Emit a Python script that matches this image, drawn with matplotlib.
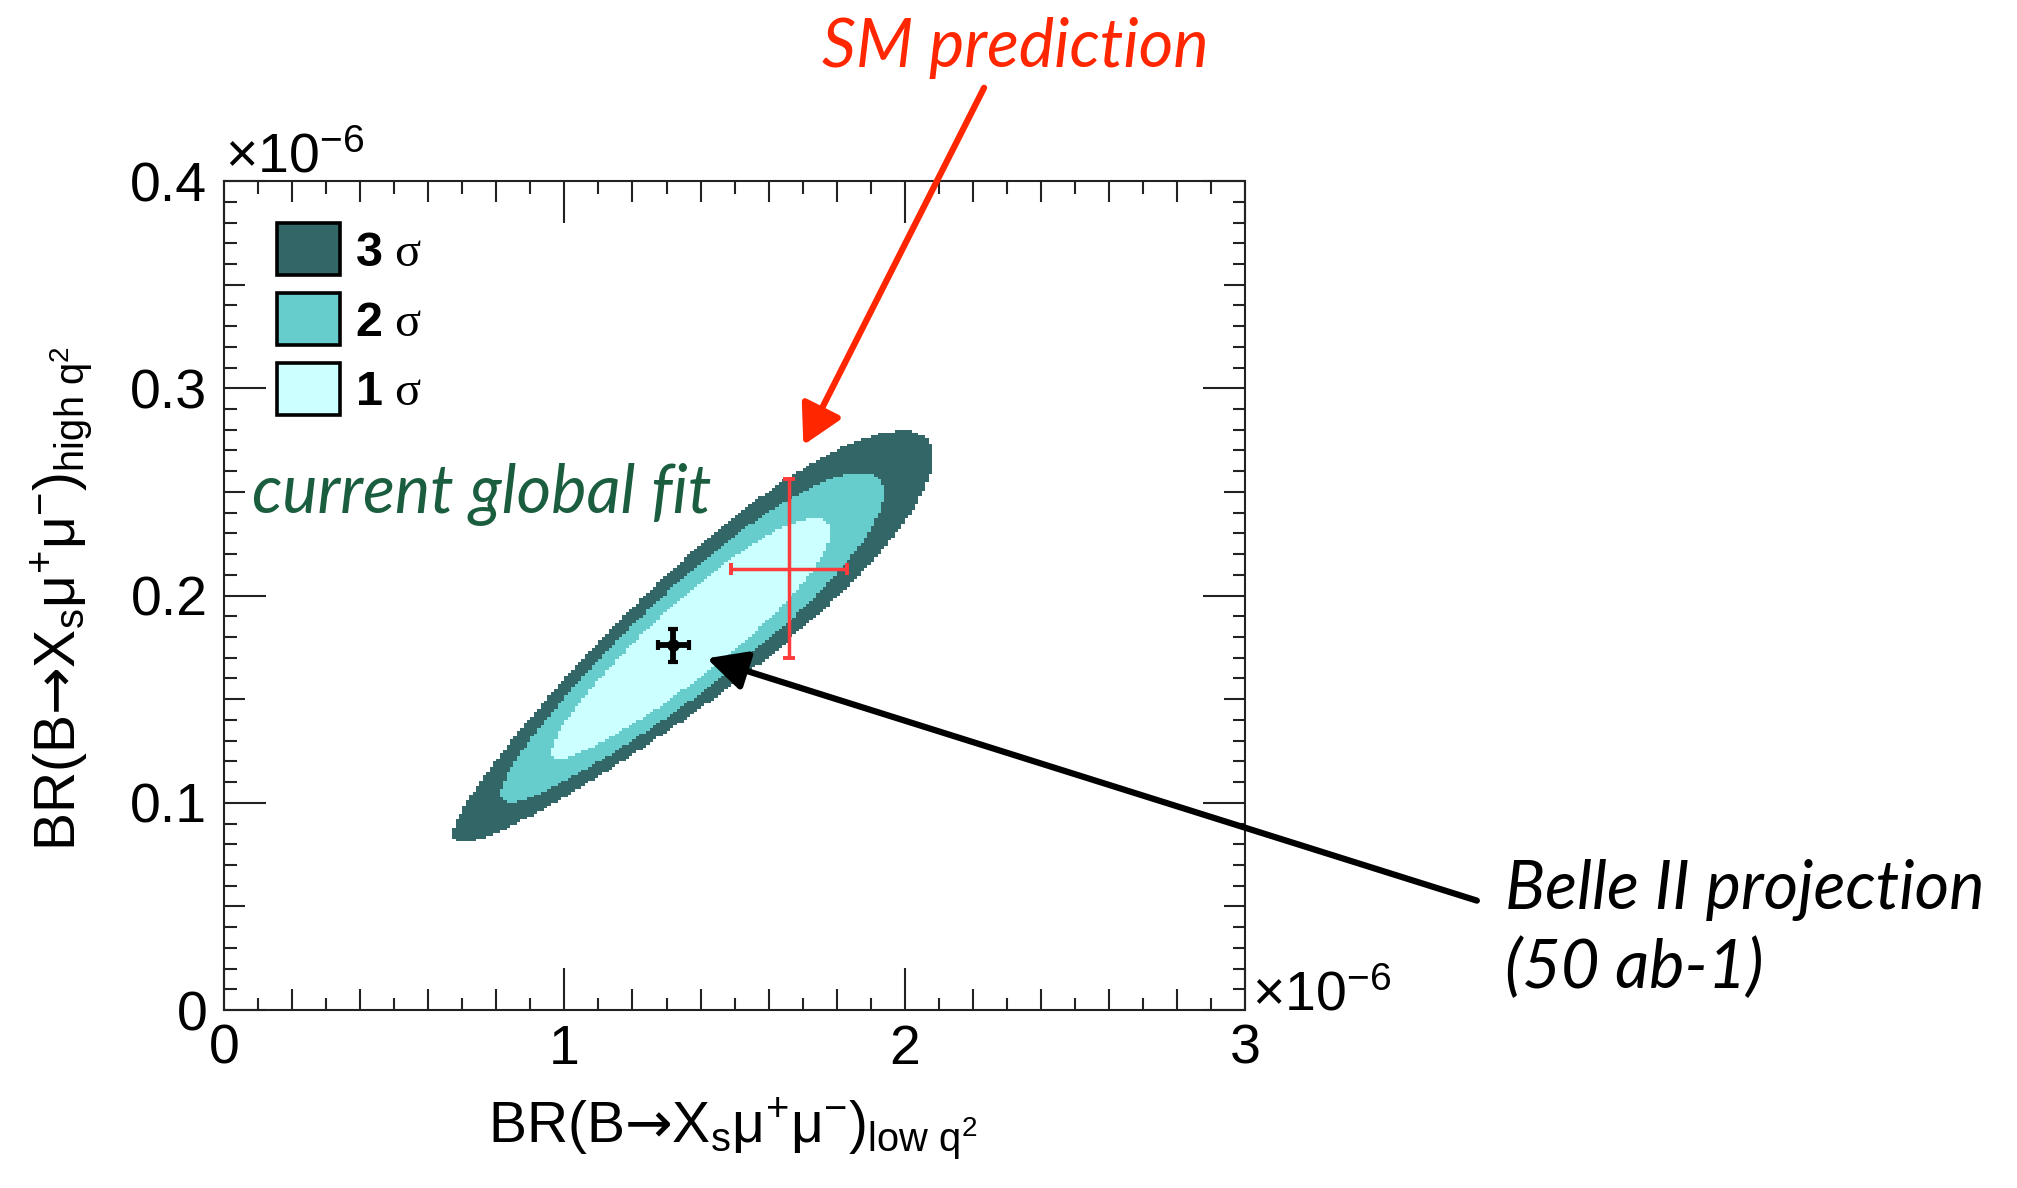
import numpy as np
import matplotlib
matplotlib.use("Agg")
import matplotlib.pyplot as plt
from matplotlib.colors import ListedColormap, BoundaryNorm
from matplotlib.patches import Patch
from matplotlib.ticker import FixedLocator, MultipleLocator, FuncFormatter

plt.rcParams['font.family'] = ['Liberation Sans', 'DejaVu Sans']
plt.rcParams['mathtext.fontset'] = 'custom'
plt.rcParams['mathtext.rm'] = 'Liberation Sans'
plt.rcParams['mathtext.it'] = 'Liberation Sans:italic'
plt.rcParams['mathtext.bf'] = 'Liberation Sans:bold'
plt.rcParams['mathtext.sf'] = 'DejaVu Sans'

# ---- global fit likelihood (branching ratios in units of 1e-6) ----
fit_center = (1.37, 0.179)       # (low q^2, high q^2)
fit_sigma = (0.20, 0.0282)
fit_rho = 0.92
fit_skew = 0.06                  # band widens towards large BR
fit_levels = [4.2, 7.9, 12.4]    # delta chi2 of the 1, 2, 3 sigma regions
region_names = ['3', '2', '1']
region_colors = ['#336666', '#66cccc', '#ccffff']

# ---- points ----
sm_value = (1.66, 0.213)
sm_error = (0.17, 0.043)
belle_value = (1.32, 0.176)
belle_error = (0.045, 0.008)

x_ticks = [0, 1, 2, 3]
y_ticks = [0.0, 0.1, 0.2, 0.3, 0.4]

fig = plt.figure(figsize=(20.17, 11.88), dpi=100)
ax = fig.add_axes([0.1111, 0.1498, 0.5062, 0.6978])

# chi2 map on a histogram grid
xb = np.linspace(0, 3, 301)
yb = np.linspace(0, 0.4, 301)
xc = 0.5 * (xb[1:] + xb[:-1])
yc = 0.5 * (yb[1:] + yb[:-1])
X, Y = np.meshgrid(xc, yc)
dx = (X - fit_center[0]) / fit_sigma[0]
dy = (Y - fit_center[1]) / fit_sigma[1]
u = (dx + dy) / np.sqrt(2)
v = (dy - dx) / np.sqrt(2)
widen = np.clip(1 + fit_skew * u, 0.2, None)
chi2 = u**2 / (1 + fit_rho) + v**2 / ((1 - fit_rho) * widen**2)
n_inside = sum((chi2 < lv).astype(int) for lv in fit_levels)
region = np.ma.masked_equal(n_inside, 0)

cmap = ListedColormap(region_colors)
norm = BoundaryNorm([0.5, 1.5, 2.5, 3.5], cmap.N)
ax.pcolormesh(xb, yb, region, cmap=cmap, norm=norm, shading='flat',
              antialiased=False, zorder=1)

# SM prediction
ax.errorbar(sm_value[0], sm_value[1], xerr=sm_error[0], yerr=sm_error[1],
            fmt='none', ecolor='#ff3b3b', elinewidth=2.5, capsize=4.5,
            capthick=2.8, zorder=3)
# Belle II projection
ax.errorbar(belle_value[0], belle_value[1], xerr=belle_error[0], yerr=belle_error[1],
            fmt='o', color='black', ms=8, elinewidth=4.2, capsize=3.5,
            capthick=3.0, zorder=4)

ax.set_xlim(0, 3)
ax.set_ylim(0, 0.4)
ax.xaxis.set_major_locator(FixedLocator(x_ticks))
ax.yaxis.set_major_locator(FixedLocator(y_ticks))
ax.xaxis.set_minor_locator(MultipleLocator(0.1))
ax.yaxis.set_minor_locator(MultipleLocator(0.01))
fmt = FuncFormatter(lambda val, pos: '0' if abs(val) < 1e-9 else f'{val:g}')
ax.xaxis.set_major_formatter(fmt)
ax.yaxis.set_major_formatter(fmt)
ax.tick_params(which='both', direction='in', top=True, right=True,
               width=1.5, color='#222222')
ax.tick_params(which='major', length=30, labelsize=40)
ax.tick_params(axis='x', which='major', pad=10)
ax.tick_params(axis='y', which='major', pad=12)
ax.tick_params(which='minor', length=9)
for sp in ax.spines.values():
    sp.set_linewidth(1.5)
    sp.set_color('#222222')


def medium_ticks(axis, step, size):
    locs = axis.get_minorticklocs()
    ticks = axis.get_minor_ticks(len(locs))
    for loc, t in zip(locs, ticks):
        if abs(loc / step - round(loc / step)) < 1e-6:
            t.tick1line.set_markersize(size)
            t.tick2line.set_markersize(size)


medium_ticks(ax.xaxis, 0.2, 15)
medium_ticks(ax.yaxis, 0.05, 15)

# exponent markers
ax.text(0.001, 1.0109, '×10$^{-6}$', transform=ax.transAxes, ha='left',
        va='baseline', fontsize=40)
ax.text(1.0066, 0.0, '×10$^{-6}$', transform=ax.transAxes, ha='left',
        va='baseline', fontsize=40)

# axis titles
arrow = r'$\mathsf{→}$'
ax.text(0.4985, -0.1592,
        r'BR(B' + arrow + r'X$_{\mathrm{s}}$μ$^{+}$μ$^{-}$)$_{\mathrm{low\ q^{2}}}$',
        transform=ax.transAxes, ha='center', va='baseline', fontsize=41)
ax.text(-0.146, 0.497,
        r'BR(B' + arrow + r'X$_{\mathrm{s}}$μ$^{+}$μ$^{-}$)$_{\mathrm{high\ q^{2}}}$',
        transform=ax.transAxes, ha='center', va='baseline', fontsize=41,
        rotation=90, rotation_mode='anchor')

# legend
handles = [Patch(facecolor=c, edgecolor='black', linewidth=2.6) for c in region_colors]
labels = [rf'$\mathbf{{{n}}}$ σ' for n in region_names]
ax.legend(handles, labels, loc='upper left', bbox_to_anchor=(0.0519, 0.949),
          frameon=False, borderpad=0, borderaxespad=0,
          prop={'family': 'Liberation Serif', 'size': 35},
          handlelength=1.30, handleheight=1.27, labelspacing=0.36,
          handletextpad=0.3)

# annotations
ann_font = dict(family='Lato', style='italic', fontsize=48)
ax.text(0.081, 0.2398, 'current global fit', color='#1b5e3f', ha='left',
        va='baseline', **ann_font)
fig.text(1015 / 2017, 1 - 67 / 1188, 'SM prediction', color='#ff2600',
         ha='center', va='baseline', **ann_font)
ax.text(3.765, 0.0487, 'Belle II projection', color='black', ha='left',
        va='baseline', clip_on=False, **ann_font)
ax.text(3.765, 0.0106, '(50 ab-1)', color='black', ha='left',
        va='baseline', clip_on=False, **ann_font)

ax.annotate('', xy=(1.702, 0.2726), xytext=(2.233, 0.445),
            arrowprops=dict(arrowstyle='-|>,head_length=0.4,head_width=0.22',
                            color='#ff2600', lw=4.5, mutation_scale=60,
                            shrinkA=0, shrinkB=0),
            annotation_clip=False, zorder=5)
ax.annotate('', xy=(1.418, 0.1697), xytext=(3.681, 0.0528),
            arrowprops=dict(arrowstyle='-|>,head_length=0.4,head_width=0.2',
                            color='black', lw=4.5, mutation_scale=60,
                            shrinkA=0, shrinkB=0),
            annotation_clip=False, zorder=5)

fig.savefig('out.png', dpi=100, facecolor='white')
